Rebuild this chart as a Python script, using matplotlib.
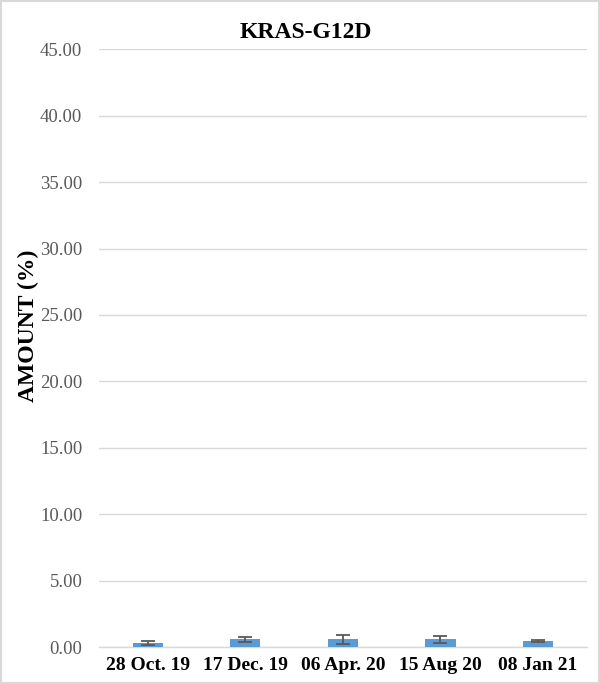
import matplotlib.pyplot as plt
import numpy as np

dates = ['28 Oct. 19', '17 Dec. 19', '06 Apr. 20', '15 Aug 20', '08 Jan 21']
amount = [0.30, 0.58, 0.58, 0.58, 0.43]
err = [0.15, 0.20, 0.35, 0.28, 0.08]
yticks = [0, 5, 10, 15, 20, 25, 30, 35, 40, 45]

plt.rcParams['font.family'] = ['Liberation Serif', 'DejaVu Serif']

fig = plt.figure(figsize=(6, 6.84), dpi=100)
ax = fig.add_axes([0.165, 0.054, 0.813, 0.874])

x = np.arange(len(dates))
ax.bar(x, amount, width=0.31, color='#5B9BD5', zorder=3)
ax.errorbar(x, amount, yerr=err, fmt='none', ecolor='#595959',
            elinewidth=1.3, capsize=5, capthick=1.3, zorder=4)

ax.set_xlim(-0.5, 4.5)
ax.set_ylim(0, 45)
ax.set_yticks(yticks)
ax.set_yticklabels(['%.2f' % v for v in yticks], color='#595959', fontsize=13.5)
ax.set_xticks(x)
ax.set_xticklabels(dates, fontsize=14, fontweight='bold')
ax.tick_params(axis='both', length=0)
ax.tick_params(axis='y', pad=12)
ax.tick_params(axis='x', pad=7)
ax.yaxis.grid(True, color='#D9D9D9', linewidth=1, zorder=0)
for s in ['top', 'right', 'left']:
    ax.spines[s].set_visible(False)
ax.spines['bottom'].set_color('#D9D9D9')
ax.spines['bottom'].set_linewidth(1)

ax.set_ylabel('AMOUNT (%)', fontsize=17, fontweight='bold')
ax.yaxis.set_label_coords(-0.122, 0.538)
fig.text(0.51, 0.953, 'KRAS-G12D', fontsize=17, fontweight='bold',
         ha='center', va='center')

fig.patches.append(plt.Rectangle((0.002, 0.002), 0.996, 0.996, transform=fig.transFigure,
                                 fill=False, edgecolor='#D9D9D9', linewidth=1.5))

plt.savefig('out.png', dpi=100)
plt.close()
